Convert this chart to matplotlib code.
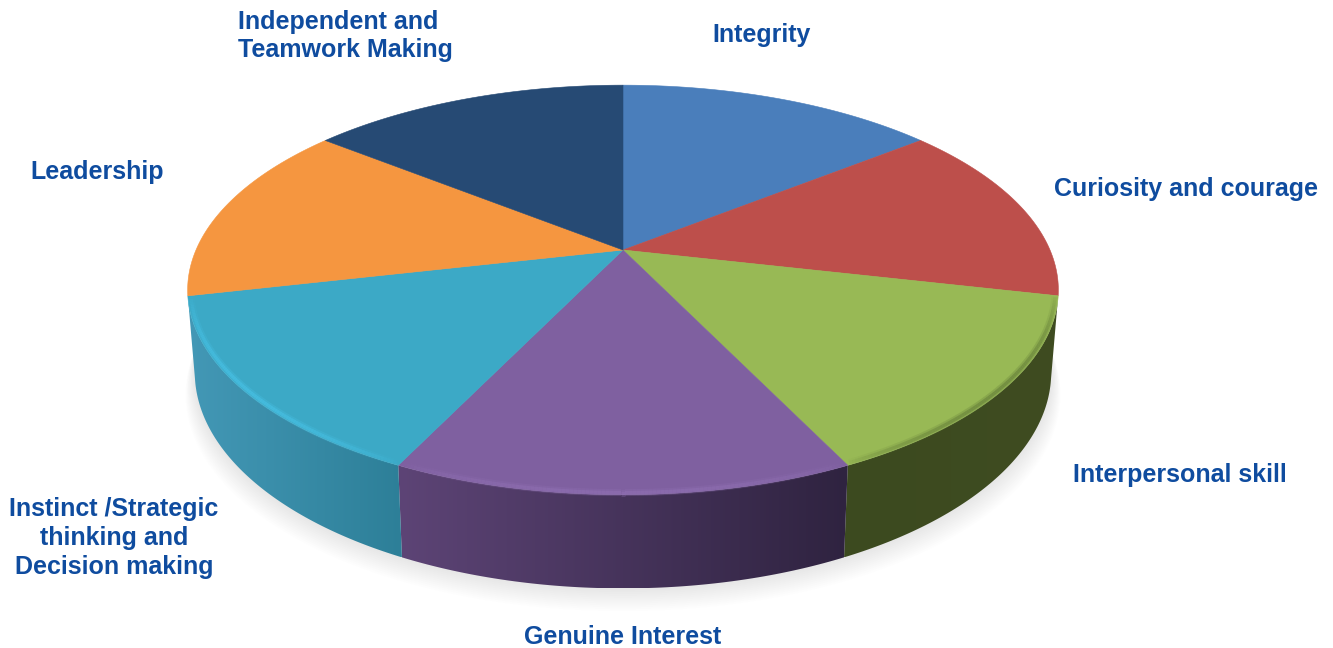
"""3D style pie of seven leadership qualities."""

import matplotlib

matplotlib.use("Agg")

import matplotlib.pyplot as plt
from matplotlib.collections import LineCollection
from matplotlib.colors import to_rgb
from matplotlib.patches import Polygon
import numpy as np

labels = [
    "Integrity",
    "Curiosity and courage",
    "Interpersonal skill",
    "Genuine Interest",
    "Instinct /Strategic\nthinking and\nDecision making",
    "Leadership",
    "Independent and\nTeamwork Making",
]
values = [1, 1, 1, 1, 1, 1, 1]

top_colors = ["#4a7ebb", "#bd4f4b", "#98b955", "#7f60a0", "#3ca9c6", "#f59640", "#264a74"]
# wall gradient (left, right) and rim colour, only the front slices show a wall
wall_colors = {
    2: ("#3c4a1f", "#3f4c21"),
    3: ("#5d4476", "#2f2340"),
    4: ("#4398b6", "#2d7f98"),
}
rim_colors = {2: "#66803a", 3: "#8f6fb2", 4: "#48c2e6"}

label_pos = [
    (762, 35, "center"),
    (1186, 189, "center"),
    (1180, 475, "center"),
    (623, 637, "center"),
    (114, 538, "center"),
    (97, 172, "center"),
    (238, 36, "left"),
]
text_color = "#0f4c9f"

CX = 623
TILT = 0.195


def project(angle, radius=1.0, a=427, b=197, y0=250):
    # angle is clockwise from 12 o'clock, perspective makes the near side bigger
    u = radius * np.sin(angle)
    v = radius * np.cos(angle)
    den = 1 + TILT * v
    return CX + a * u / den, y0 - b * v / den


def lower(angle):
    return project(angle, a=420, b=208, y0=330)


def arc(start, end, n=80):
    return np.linspace(start, end, n)


edges = np.cumsum([0] + values) / sum(values) * 2 * np.pi

fig = plt.figure(figsize=(13.33, 6.48), dpi=100)
ax = fig.add_axes([0, 0, 1, 1])

# soft shadow under the disc
full = arc(0, 2 * np.pi, 200)
for i in range(13):
    sx, sy = lower(full)
    sx = CX + (sx - CX) * (1 + 0.0018 * i)
    sy = sy + 1.9 * i
    ax.add_patch(Polygon(np.column_stack([sx, sy]), closed=True, fc="#888888", ec="none", alpha=0.012, zorder=1))

# walls
for i, (left, right) in wall_colors.items():
    t = arc(edges[i], edges[i + 1])
    tx, ty = project(t)
    bx, by = lower(t)
    poly = Polygon(
        np.column_stack([np.r_[tx, bx[::-1]], np.r_[ty, by[::-1]]]),
        closed=True, fc="none", ec="none", transform=ax.transData,
    )
    ax.add_patch(poly)
    grad = np.linspace(to_rgb(left), to_rgb(right), 256)[np.newaxis, :, :]
    im = ax.imshow(
        grad, aspect="auto", zorder=2,
        extent=[min(tx.min(), bx.min()), max(tx.max(), bx.max()), by.max(), ty.min()],
    )
    im.set_clip_path(poly)

# top surface
for i, color in enumerate(top_colors):
    t = arc(edges[i], edges[i + 1])
    x, y = project(t)
    pts = np.column_stack([np.r_[CX, x], np.r_[250, y]])
    ax.add_patch(Polygon(pts, closed=True, fc=color, ec=color, lw=0.4, zorder=3))

# bevel along the front edge, fading out at the ends of each slice
for i, color in rim_colors.items():
    t = arc(edges[i], edges[i + 1], 120)
    x, y = project(t, radius=0.993)
    xy = np.column_stack([x, y])
    segs = np.stack([xy[:-1], xy[1:]], axis=1)
    fade = np.sin(np.linspace(0, np.pi, len(segs))) ** 0.6
    for width, strength in [(5.0, 0.3), (2.4, 0.6)]:
        rgba = np.column_stack([np.tile(to_rgb(color), (len(segs), 1)), fade * strength])
        ax.add_collection(LineCollection(segs, colors=rgba, linewidths=width, capstyle="butt", zorder=4))

for label, (lx, ly, ha) in zip(labels, label_pos):
    ax.text(
        lx, ly, label, ha=ha, va="center", multialignment=ha, color=text_color,
        fontsize=18, fontweight="bold", family="Liberation Sans", linespacing=1.25, zorder=5,
    )

ax.set_xlim(0, 1333)
ax.set_ylim(648, 0)
ax.axis("off")
fig.savefig("out.png", dpi=100, facecolor="white")
